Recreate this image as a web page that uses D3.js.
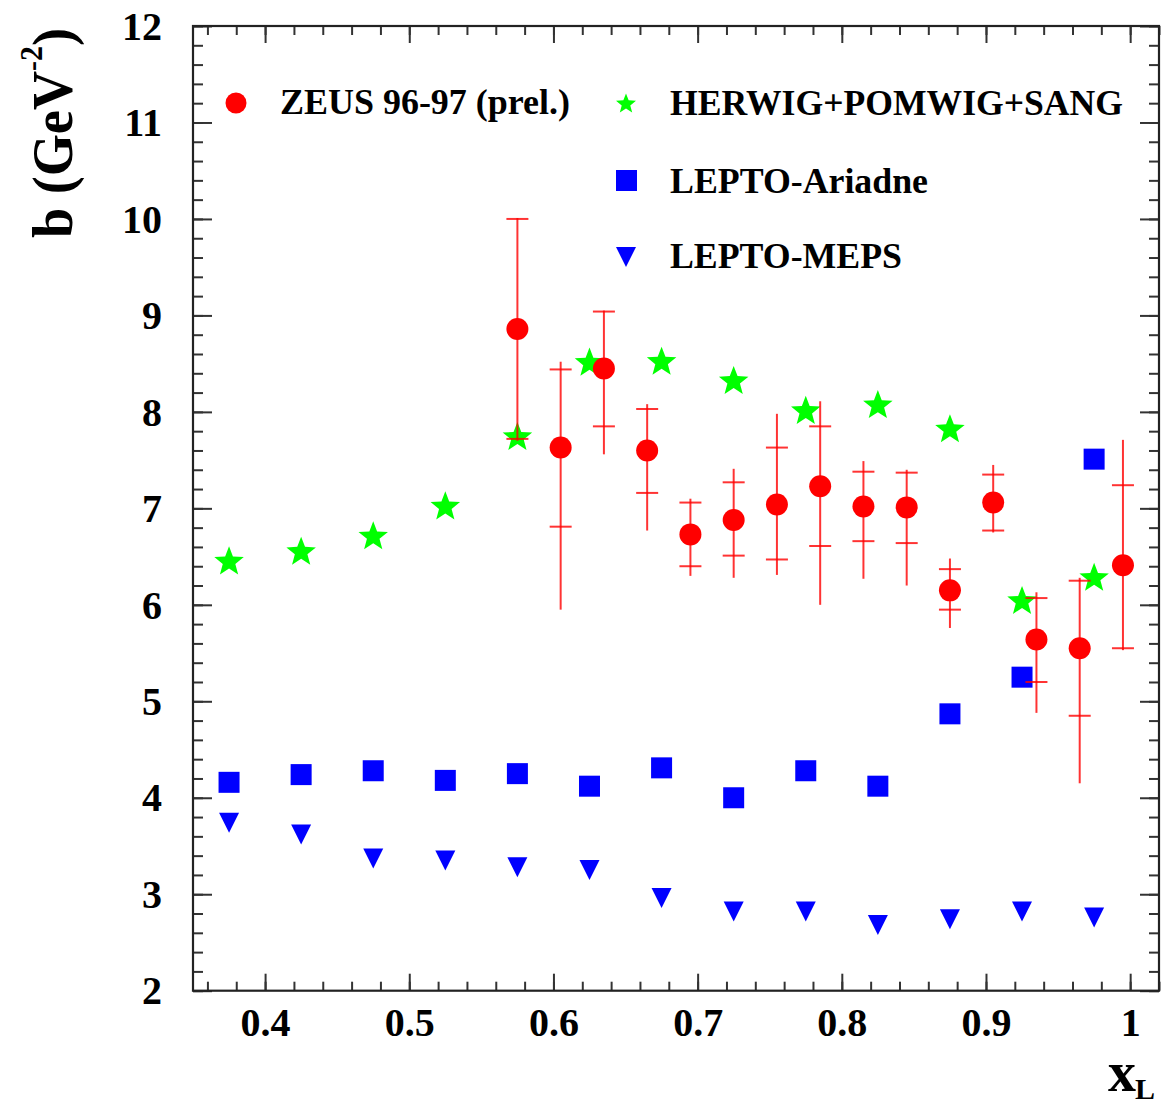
<!DOCTYPE html>
<html>
<head>
<meta charset="utf-8">
<script src="https://cdn.jsdelivr.net/npm/d3@7"></script>
<style>
  html, body { margin: 0; padding: 0; background: #fff; }
  svg { display: block; }
  text { font-family: "Liberation Serif", "Times New Roman", serif; font-weight: bold; fill: #000; }
</style>
</head>
<body>
<svg id="chart" width="1162" height="1108"></svg>
<script>
// ---------------- DATA ----------------
const xTickValues = [0.4, 0.5, 0.6, 0.7, 0.8, 0.9, 1.0];
const xTickLabels = ["0.4", "0.5", "0.6", "0.7", "0.8", "0.9", "1"];
const yTickValues = [2, 3, 4, 5, 6, 7, 8, 9, 10, 11, 12];
const yTickLabels = ["2", "3", "4", "5", "6", "7", "8", "9", "10", "11", "12"];

// ZEUS 96-97 (prel.) data with inner (stat) and outer (total) errors
const zeusX      = [0.575, 0.605, 0.635, 0.665, 0.695, 0.725, 0.755, 0.785, 0.815, 0.845, 0.875, 0.905, 0.935, 0.965, 0.995];
const zeusB      = [8.86, 7.63, 8.45, 7.60, 6.73, 6.88, 7.04, 7.23, 7.02, 7.01, 6.15, 7.06, 5.64, 5.55, 6.41];
const zeusStatHi = [10.00, 8.44, 9.04, 8.03, 7.06, 7.27, 7.63, 7.85, 7.38, 7.37, 6.37, 7.35, 6.07, 6.25, 7.24];
const zeusStatLo = [7.72, 6.81, 7.85, 7.16, 6.40, 6.51, 6.47, 6.61, 6.66, 6.64, 5.95, 6.77, 5.20, 4.85, 5.55];
const zeusTotHi  = [10.01, 8.52, 9.05, 8.08, 7.10, 7.41, 7.98, 8.11, 7.49, 7.40, 6.48, 7.45, 6.13, 6.28, 7.71];
const zeusTotLo  = [7.70, 5.95, 7.56, 6.77, 6.30, 6.28, 6.31, 6.00, 6.27, 6.20, 5.76, 6.75, 4.88, 4.15, 5.53];

// Monte Carlo predictions
const mcX      = [0.375, 0.425, 0.475, 0.525, 0.575, 0.625, 0.675, 0.725, 0.775, 0.825, 0.875, 0.925, 0.975];
const herwigB  = [6.46, 6.56, 6.72, 7.03, 7.75, 8.52, 8.53, 8.33, 8.02, 8.08, 7.83, 6.05, 6.29];
const ariadneB = [4.16, 4.24, 4.28, 4.18, 4.25, 4.12, 4.31, 4.00, 4.28, 4.12, 4.87, 5.25, 7.51];
const mepsB    = [3.74, 3.62, 3.37, 3.35, 3.28, 3.25, 2.96, 2.82, 2.82, 2.68, 2.74, 2.82, 2.76];

const legendLabels = ["ZEUS 96-97 (prel.)", "HERWIG+POMWIG+SANG", "LEPTO-Ariadne", "LEPTO-MEPS"];

// ---------------- LAYOUT ----------------
const RED = "#ff0000", GREEN = "#00ff00", BLUE = "#0000ff";
const svg = d3.select("#chart");
svg.append("rect").attr("width", 1162).attr("height", 1108).attr("fill", "#fff");

const x = d3.scaleLinear().domain([0.35, 1.02]).range([193, 1159]);
const y = d3.scaleLinear().domain([2, 12]).range([990.7, 26]);
const X0 = x.range()[0], X1 = x.range()[1], Y0 = y.range()[0], Y1 = y.range()[1];

const xMinor = d3.range(36, 103, 2).map(v => v / 100);
const yMinor = d3.range(10, 61, 1).map(v => v / 5);

function styleAxis(g) {
  g.select(".domain").remove();
  g.selectAll(".tick line").attr("stroke", "#333").attr("stroke-width", 2);
}

// bottom
svg.append("g").attr("transform", `translate(0,${Y0})`)
  .call(d3.axisBottom(x).tickValues(xMinor).tickSize(-9).tickFormat(""))
  .call(styleAxis);
const xb = svg.append("g").attr("transform", `translate(0,${Y0})`)
  .call(d3.axisBottom(x).tickValues(xTickValues).tickSize(-17).tickPadding(17)
    .tickFormat((d, i) => xTickLabels[i]))
  .call(styleAxis);
xb.selectAll("text").attr("font-size", 40).attr("font-family", "Liberation Serif").attr("font-weight", "bold").attr("fill", "#000");
// top
svg.append("g").attr("transform", `translate(0,${Y1})`)
  .call(d3.axisTop(x).tickValues(xMinor).tickSize(-9).tickFormat("")).call(styleAxis);
svg.append("g").attr("transform", `translate(0,${Y1})`)
  .call(d3.axisTop(x).tickValues(xTickValues).tickSize(-17).tickFormat("")).call(styleAxis);
// left
svg.append("g").attr("transform", `translate(${X0},0)`)
  .call(d3.axisLeft(y).tickValues(yMinor).tickSize(-10).tickFormat("")).call(styleAxis);
const yl = svg.append("g").attr("transform", `translate(${X0},0)`)
  .call(d3.axisLeft(y).tickValues(yTickValues).tickSize(-19).tickPadding(31)
    .tickFormat((d, i) => yTickLabels[i]))
  .call(styleAxis);
yl.selectAll("text").attr("font-size", 40).attr("font-family", "Liberation Serif").attr("font-weight", "bold").attr("fill", "#000").attr("dy", "0.33em");
// right
svg.append("g").attr("transform", `translate(${X1},0)`)
  .call(d3.axisRight(y).tickValues(yMinor).tickSize(-10).tickFormat("")).call(styleAxis);
svg.append("g").attr("transform", `translate(${X1},0)`)
  .call(d3.axisRight(y).tickValues(yTickValues).tickSize(-19).tickFormat("")).call(styleAxis);

// frame
svg.append("rect").attr("x", X0).attr("y", Y1).attr("width", X1 - X0).attr("height", Y0 - Y1)
  .attr("fill", "none").attr("stroke", "#222").attr("stroke-width", 2.2);

// axis titles
const yt = svg.append("text").attr("transform", "translate(72,238) rotate(-90)")
  .attr("font-size", 58).attr("text-anchor", "start");
yt.append("tspan").text("b (GeV");
yt.append("tspan").attr("font-size", 32).attr("dy", -30).text("-2");
yt.append("tspan").attr("dy", 30).text(")");
yt.attr("textLength", 210).attr("lengthAdjust", "spacingAndGlyphs");

const xt = svg.append("text").attr("x", 1108).attr("y", 1091).attr("font-size", 56);
xt.append("tspan").text("x");
xt.append("tspan").attr("font-size", 30).attr("dx", -1).attr("dy", 8).text("L");

// ---------------- MARKERS ----------------
function starPath(R, r) {
  const pts = [];
  for (let i = 0; i < 10; i++) {
    const a = -Math.PI / 2 + i * Math.PI / 5;
    const rad = i % 2 === 0 ? R : r;
    pts.push([rad * Math.cos(a), rad * Math.sin(a)]);
  }
  return "M" + pts.map(p => p[0].toFixed(2) + "," + p[1].toFixed(2)).join("L") + "Z";
}
function triPath(w) {
  const h = w;
  return `M${-w / 2},${-h / 2}L${w / 2},${-h / 2}L0,${h / 2}Z`;
}

const plot = svg.append("g");

// LEPTO-MEPS triangles
plot.selectAll("path.meps").data(mcX).join("path").attr("class", "meps")
  .attr("d", triPath(20)).attr("fill", BLUE)
  .attr("transform", (d, i) => `translate(${x(d)},${y(mepsB[i])})`);
// LEPTO-Ariadne squares
plot.selectAll("rect.ari").data(mcX).join("rect").attr("class", "ari")
  .attr("x", d => x(d) - 10.5).attr("y", (d, i) => y(ariadneB[i]) - 10.5)
  .attr("width", 21).attr("height", 21).attr("fill", BLUE);
// HERWIG stars
plot.selectAll("path.her").data(mcX).join("path").attr("class", "her")
  .attr("d", starPath(15.5, 6.6)).attr("fill", GREEN)
  .attr("transform", (d, i) => `translate(${x(d)},${y(herwigB[i]) + 1.4})`);

// ZEUS error bars
const eb = plot.append("g").attr("stroke", RED).attr("stroke-width", 2).attr("stroke-opacity", 0.8);
eb.selectAll("line.tot").data(zeusX).join("line").attr("class", "tot")
  .attr("x1", d => x(d)).attr("x2", d => x(d))
  .attr("y1", (d, i) => y(zeusTotHi[i])).attr("y2", (d, i) => y(zeusTotLo[i]));
eb.selectAll("line.shi").data(zeusX).join("line").attr("class", "shi")
  .attr("x1", d => x(d) - 11).attr("x2", d => x(d) + 11)
  .attr("y1", (d, i) => y(zeusStatHi[i])).attr("y2", (d, i) => y(zeusStatHi[i]));
eb.selectAll("line.slo").data(zeusX).join("line").attr("class", "slo")
  .attr("x1", d => x(d) - 11).attr("x2", d => x(d) + 11)
  .attr("y1", (d, i) => y(zeusStatLo[i])).attr("y2", (d, i) => y(zeusStatLo[i]));
plot.selectAll("circle.zeus").data(zeusX).join("circle").attr("class", "zeus")
  .attr("cx", d => x(d)).attr("cy", (d, i) => y(zeusB[i])).attr("r", 11).attr("fill", RED);

// ---------------- LEGEND ----------------
const leg = svg.append("g");
leg.append("circle").attr("cx", 236).attr("cy", 103).attr("r", 10.5).attr("fill", RED);
leg.append("text").attr("x", 280).attr("y", 114).attr("font-size", 35)
  .attr("textLength", 290).attr("lengthAdjust", "spacingAndGlyphs").text(legendLabels[0]);
leg.append("path").attr("d", starPath(10.5, 4.5)).attr("fill", GREEN).attr("transform", "translate(626,104)");
leg.append("text").attr("x", 670).attr("y", 115).attr("font-size", 35)
  .attr("textLength", 453).attr("lengthAdjust", "spacingAndGlyphs").text(legendLabels[1]);
leg.append("rect").attr("x", 616).attr("y", 170).attr("width", 21).attr("height", 21).attr("fill", BLUE);
leg.append("text").attr("x", 670).attr("y", 193).attr("font-size", 35)
  .attr("textLength", 258).attr("lengthAdjust", "spacingAndGlyphs").text(legendLabels[2]);
leg.append("path").attr("d", triPath(20)).attr("fill", BLUE).attr("transform", "translate(626,257)");
leg.append("text").attr("x", 670).attr("y", 268).attr("font-size", 35)
  .attr("textLength", 232).attr("lengthAdjust", "spacingAndGlyphs").text(legendLabels[3]);
</script>
</body>
</html>
